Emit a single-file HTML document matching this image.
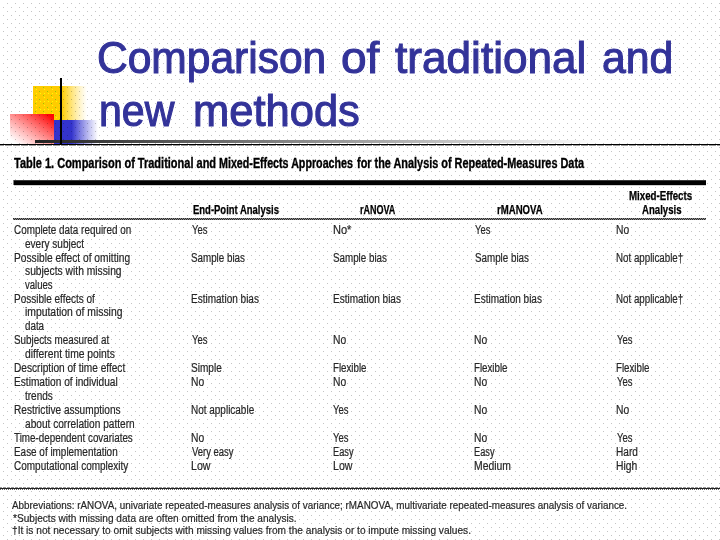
<!DOCTYPE html>
<html><head><meta charset="utf-8"><title>Comparison of traditional and new methods</title>
<style>
html,body{margin:0;padding:0;}
body{width:720px;height:540px;overflow:hidden;position:relative;background:#fff;font-family:"Liberation Sans",sans-serif;}
.t{position:absolute;white-space:nowrap;transform-origin:0 0;}
.abs{position:absolute;}
#txt{position:absolute;left:0;top:0;width:720px;height:540px;will-change:transform;}
</style></head><body>
<svg class="abs" style="left:0;top:0" width="720" height="540" viewBox="0 0 720 540" shape-rendering="crispEdges">
 <defs>
  <pattern id="dots" width="8" height="8" patternUnits="userSpaceOnUse">
   <rect x="7" y="3" width="1" height="1" fill="#c4c4c4"/>
   <rect x="3" y="7" width="1" height="1" fill="#c4c4c4"/>
  </pattern>
  <pattern id="ydots" width="8" height="8" patternUnits="userSpaceOnUse">
   <rect x="7" y="3" width="1" height="1" fill="#c8ff00"/>
   <rect x="3" y="7" width="1" height="1" fill="#c8ff00"/>
   <rect x="4" y="1" width="1" height="1" fill="#ffff00"/>
   <rect x="0" y="5" width="1" height="1" fill="#ffff00"/>
   <rect x="4" y="5" width="1" height="1" fill="#ffff00"/>
  </pattern>
  <pattern id="chk" width="2" height="2" patternUnits="userSpaceOnUse">
   <rect x="0" y="0" width="2" height="2" fill="#8a8a8a"/>
   <rect x="1" y="0" width="1" height="1" fill="#2a2a2a"/>
   <rect x="0" y="1" width="1" height="1" fill="#2a2a2a"/>
  </pattern>
  <pattern id="d8" width="8" height="1" patternUnits="userSpaceOnUse">
   <rect x="0" y="0" width="4" height="1" fill="#9a9a9a"/><rect x="5" y="0" width="3" height="1" fill="#9a9a9a"/>
  </pattern>
  <pattern id="d4" width="4" height="1" patternUnits="userSpaceOnUse">
   <rect x="0" y="0" width="2" height="1" fill="#999"/><rect x="3" y="0" width="1" height="1" fill="#999"/>
  </pattern>
  <pattern id="d2" width="2" height="1" patternUnits="userSpaceOnUse">
   <rect x="0" y="0" width="1" height="1" fill="#666"/>
  </pattern>
  <linearGradient id="gy" x1="0" x2="1" y1="0" y2="0">
   <stop offset="0" stop-color="#ffcc00"/><stop offset="0.53" stop-color="#ffcc00"/><stop offset="1" stop-color="#ffdd55" stop-opacity="0"/>
  </linearGradient>
  <linearGradient id="gb" x1="0" x2="1" y1="0" y2="0">
   <stop offset="0" stop-color="#3333cc"/><stop offset="0.40" stop-color="#3333cc"/><stop offset="1" stop-color="#5555dd" stop-opacity="0"/>
  </linearGradient>
  <linearGradient id="gr" x1="1" x2="0" y1="0" y2="1">
   <stop offset="0" stop-color="#ff0000"/><stop offset="0.08" stop-color="#ff0808"/><stop offset="0.5" stop-color="#ff2020" stop-opacity="0.5"/><stop offset="0.92" stop-color="#ff4040" stop-opacity="0"/>
  </linearGradient>
  <linearGradient id="gl" x1="0" x2="1" y1="0" y2="0">
   <stop offset="0" stop-color="#222"/><stop offset="1" stop-color="#ffffff"/>
  </linearGradient>
 </defs>
 <rect x="0" y="0" width="720" height="540" fill="#fff"/>
 <rect x="33" y="86" width="54" height="34" fill="url(#gy)"/>
 <rect x="33" y="86" width="29" height="34" fill="url(#ydots)"/>
 <rect x="54" y="120" width="44" height="24" fill="url(#gb)"/>
 <rect x="10" y="114" width="44" height="30" fill="#fff"/>
 <rect x="10" y="114" width="44" height="30" fill="url(#gr)"/>
 <rect x="0" y="0" width="720" height="540" fill="url(#dots)" style="mix-blend-mode:multiply"/>
 <rect x="35" y="140" width="565" height="3" fill="url(#gl)"/>
 <rect x="60" y="78" width="2" height="66" fill="#000"/>
 <rect x="0" y="144" width="720" height="1" fill="#000"/>
 <rect x="0" y="145" width="720" height="1" fill="url(#d8)"/>
 <rect x="13" y="180" width="1" height="5" fill="#808080"/>
 <rect x="14" y="180" width="692" height="1" fill="#3a3a3a"/>
 <rect x="14" y="181" width="692" height="4" fill="#000"/>
 <rect x="14" y="185" width="692" height="1" fill="#d0d0d0"/>
 <rect x="13" y="218" width="693" height="2" fill="url(#chk)"/>
 <rect x="0" y="487" width="720" height="1" fill="url(#d4)"/>
 <rect x="0" y="488" width="720" height="1" fill="#222"/>
 <rect x="0" y="489" width="720" height="1" fill="url(#d2)"/>
</svg>
<div id="txt">
<span class="t" style="left:97.33px;top:36.00px;font-size:44.5px;line-height:44.5px;color:#333399;-webkit-text-stroke:1.1px #333399;transform:scaleX(0.9557);">Comparison</span>
<span class="t" style="left:341.01px;top:36.00px;font-size:44.5px;line-height:44.5px;color:#333399;-webkit-text-stroke:1.1px #333399;transform:scaleX(1.0329);">of</span>
<span class="t" style="left:395.00px;top:36.00px;font-size:44.5px;line-height:44.5px;color:#333399;-webkit-text-stroke:1.1px #333399;transform:scaleX(0.9921);">traditional</span>
<span class="t" style="left:601.50px;top:36.00px;font-size:44.5px;line-height:44.5px;color:#333399;-webkit-text-stroke:1.1px #333399;transform:scaleX(0.9611);">and</span>
<span class="t" style="left:99.22px;top:89.00px;font-size:44.5px;line-height:44.5px;color:#333399;-webkit-text-stroke:1.1px #333399;transform:scaleX(0.9234);">new</span>
<span class="t" style="left:193.30px;top:89.00px;font-size:44.5px;line-height:44.5px;color:#333399;-webkit-text-stroke:1.1px #333399;transform:scaleX(0.9776);">methods</span>
<span class="t" style="left:14.00px;top:157.00px;font-size:13.8px;line-height:13.8px;color:#000;font-weight:bold;-webkit-text-stroke:0.35px #000;transform:scaleX(0.7972);">Table 1. Comparison of Traditional and</span>
<span class="t" style="left:218.92px;top:157.00px;font-size:13.8px;line-height:13.8px;color:#000;font-weight:bold;-webkit-text-stroke:0.35px #000;transform:scaleX(0.7755);">Mixed-Effects Approaches</span>
<span class="t" style="left:357.00px;top:157.00px;font-size:13.8px;line-height:13.8px;color:#000;font-weight:bold;-webkit-text-stroke:0.35px #000;transform:scaleX(0.7892);">for the Analysis of Repeated-Measures Data</span>
<span class="t" style="left:193.41px;top:204.00px;font-size:12px;line-height:12px;color:#000;font-weight:bold;-webkit-text-stroke:0.25px #000;transform:scaleX(0.7889);">End-Point Analysis</span>
<span class="t" style="left:360.44px;top:204.00px;font-size:12px;line-height:12px;color:#000;font-weight:bold;-webkit-text-stroke:0.25px #000;transform:scaleX(0.7503);">rANOVA</span>
<span class="t" style="left:496.70px;top:204.00px;font-size:12px;line-height:12px;color:#000;font-weight:bold;-webkit-text-stroke:0.25px #000;transform:scaleX(0.8000);">rMANOVA</span>
<span class="t" style="left:629.39px;top:190.00px;font-size:12px;line-height:12px;color:#000;font-weight:bold;-webkit-text-stroke:0.25px #000;transform:scaleX(0.8091);">Mixed-Effects</span>
<span class="t" style="left:641.50px;top:204.00px;font-size:12px;line-height:12px;color:#000;font-weight:bold;-webkit-text-stroke:0.25px #000;transform:scaleX(0.8000);">Analysis</span>
<span class="t" style="left:13.84px;top:224.00px;font-size:12px;line-height:12px;color:#262626;-webkit-text-stroke:0.2px #262626;transform:scaleX(0.8245);">Complete data required on</span>
<span class="t" style="left:191.60px;top:224.00px;font-size:12px;line-height:12px;color:#262626;-webkit-text-stroke:0.2px #262626;transform:scaleX(0.7895);">Yes</span>
<span class="t" style="left:332.71px;top:224.00px;font-size:12px;line-height:12px;color:#262626;-webkit-text-stroke:0.2px #262626;transform:scaleX(0.9195);">No*</span>
<span class="t" style="left:474.80px;top:224.00px;font-size:12px;line-height:12px;color:#262626;-webkit-text-stroke:0.2px #262626;transform:scaleX(0.7895);">Yes</span>
<span class="t" style="left:616.06px;top:224.00px;font-size:12px;line-height:12px;color:#262626;-webkit-text-stroke:0.2px #262626;transform:scaleX(0.8561);">No</span>
<span class="t" style="left:24.78px;top:238.00px;font-size:12px;line-height:12px;color:#262626;-webkit-text-stroke:0.2px #262626;transform:scaleX(0.8363);">every subject</span>
<span class="t" style="left:13.61px;top:252.00px;font-size:12px;line-height:12px;color:#262626;-webkit-text-stroke:0.2px #262626;transform:scaleX(0.8503);">Possible effect of omitting</span>
<span class="t" style="left:191.39px;top:252.00px;font-size:12px;line-height:12px;color:#262626;-webkit-text-stroke:0.2px #262626;transform:scaleX(0.8169);">Sample bias</span>
<span class="t" style="left:332.99px;top:252.00px;font-size:12px;line-height:12px;color:#262626;-webkit-text-stroke:0.2px #262626;transform:scaleX(0.8169);">Sample bias</span>
<span class="t" style="left:474.59px;top:252.00px;font-size:12px;line-height:12px;color:#262626;-webkit-text-stroke:0.2px #262626;transform:scaleX(0.8169);">Sample bias</span>
<span class="t" style="left:616.09px;top:252.00px;font-size:12px;line-height:12px;color:#262626;-webkit-text-stroke:0.2px #262626;transform:scaleX(0.8123);">Not applicable†</span>
<span class="t" style="left:24.99px;top:265.00px;font-size:12px;line-height:12px;color:#262626;-webkit-text-stroke:0.2px #262626;transform:scaleX(0.8568);">subjects with missing</span>
<span class="t" style="left:25.20px;top:279.00px;font-size:12px;line-height:12px;color:#262626;-webkit-text-stroke:0.2px #262626;transform:scaleX(0.7971);">values</span>
<span class="t" style="left:13.63px;top:293.00px;font-size:12px;line-height:12px;color:#262626;-webkit-text-stroke:0.2px #262626;transform:scaleX(0.8316);">Possible effects of</span>
<span class="t" style="left:191.17px;top:293.00px;font-size:12px;line-height:12px;color:#262626;-webkit-text-stroke:0.2px #262626;transform:scaleX(0.8349);">Estimation bias</span>
<span class="t" style="left:332.77px;top:293.00px;font-size:12px;line-height:12px;color:#262626;-webkit-text-stroke:0.2px #262626;transform:scaleX(0.8349);">Estimation bias</span>
<span class="t" style="left:474.37px;top:293.00px;font-size:12px;line-height:12px;color:#262626;-webkit-text-stroke:0.2px #262626;transform:scaleX(0.8349);">Estimation bias</span>
<span class="t" style="left:616.09px;top:293.00px;font-size:12px;line-height:12px;color:#262626;-webkit-text-stroke:0.2px #262626;transform:scaleX(0.8123);">Not applicable†</span>
<span class="t" style="left:24.55px;top:306.00px;font-size:12px;line-height:12px;color:#262626;-webkit-text-stroke:0.2px #262626;transform:scaleX(0.8647);">imputation of missing</span>
<span class="t" style="left:24.79px;top:320.00px;font-size:12px;line-height:12px;color:#262626;-webkit-text-stroke:0.2px #262626;transform:scaleX(0.8152);">data</span>
<span class="t" style="left:13.84px;top:334.00px;font-size:12px;line-height:12px;color:#262626;-webkit-text-stroke:0.2px #262626;transform:scaleX(0.8207);">Subjects measured at</span>
<span class="t" style="left:191.60px;top:334.00px;font-size:12px;line-height:12px;color:#262626;-webkit-text-stroke:0.2px #262626;transform:scaleX(0.7895);">Yes</span>
<span class="t" style="left:332.76px;top:334.00px;font-size:12px;line-height:12px;color:#262626;-webkit-text-stroke:0.2px #262626;transform:scaleX(0.8561);">No</span>
<span class="t" style="left:474.36px;top:334.00px;font-size:12px;line-height:12px;color:#262626;-webkit-text-stroke:0.2px #262626;transform:scaleX(0.8561);">No</span>
<span class="t" style="left:616.50px;top:334.00px;font-size:12px;line-height:12px;color:#262626;-webkit-text-stroke:0.2px #262626;transform:scaleX(0.7895);">Yes</span>
<span class="t" style="left:24.77px;top:348.00px;font-size:12px;line-height:12px;color:#262626;-webkit-text-stroke:0.2px #262626;transform:scaleX(0.8602);">different time points</span>
<span class="t" style="left:13.62px;top:362.00px;font-size:12px;line-height:12px;color:#262626;-webkit-text-stroke:0.2px #262626;transform:scaleX(0.8438);">Description of time effect</span>
<span class="t" style="left:191.38px;top:362.00px;font-size:12px;line-height:12px;color:#262626;-webkit-text-stroke:0.2px #262626;transform:scaleX(0.8392);">Simple</span>
<span class="t" style="left:332.79px;top:362.00px;font-size:12px;line-height:12px;color:#262626;-webkit-text-stroke:0.2px #262626;transform:scaleX(0.8099);">Flexible</span>
<span class="t" style="left:474.39px;top:362.00px;font-size:12px;line-height:12px;color:#262626;-webkit-text-stroke:0.2px #262626;transform:scaleX(0.8099);">Flexible</span>
<span class="t" style="left:616.09px;top:362.00px;font-size:12px;line-height:12px;color:#262626;-webkit-text-stroke:0.2px #262626;transform:scaleX(0.8099);">Flexible</span>
<span class="t" style="left:13.62px;top:376.00px;font-size:12px;line-height:12px;color:#262626;-webkit-text-stroke:0.2px #262626;transform:scaleX(0.8454);">Estimation of individual</span>
<span class="t" style="left:191.16px;top:376.00px;font-size:12px;line-height:12px;color:#262626;-webkit-text-stroke:0.2px #262626;transform:scaleX(0.8561);">No</span>
<span class="t" style="left:332.76px;top:376.00px;font-size:12px;line-height:12px;color:#262626;-webkit-text-stroke:0.2px #262626;transform:scaleX(0.8561);">No</span>
<span class="t" style="left:474.36px;top:376.00px;font-size:12px;line-height:12px;color:#262626;-webkit-text-stroke:0.2px #262626;transform:scaleX(0.8561);">No</span>
<span class="t" style="left:616.50px;top:376.00px;font-size:12px;line-height:12px;color:#262626;-webkit-text-stroke:0.2px #262626;transform:scaleX(0.7895);">Yes</span>
<span class="t" style="left:25.20px;top:390.00px;font-size:12px;line-height:12px;color:#262626;-webkit-text-stroke:0.2px #262626;transform:scaleX(0.8333);">trends</span>
<span class="t" style="left:13.62px;top:404.00px;font-size:12px;line-height:12px;color:#262626;-webkit-text-stroke:0.2px #262626;transform:scaleX(0.8410);">Restrictive assumptions</span>
<span class="t" style="left:191.18px;top:404.00px;font-size:12px;line-height:12px;color:#262626;-webkit-text-stroke:0.2px #262626;transform:scaleX(0.8307);">Not applicable</span>
<span class="t" style="left:333.20px;top:404.00px;font-size:12px;line-height:12px;color:#262626;-webkit-text-stroke:0.2px #262626;transform:scaleX(0.7895);">Yes</span>
<span class="t" style="left:474.36px;top:404.00px;font-size:12px;line-height:12px;color:#262626;-webkit-text-stroke:0.2px #262626;transform:scaleX(0.8561);">No</span>
<span class="t" style="left:616.06px;top:404.00px;font-size:12px;line-height:12px;color:#262626;-webkit-text-stroke:0.2px #262626;transform:scaleX(0.8561);">No</span>
<span class="t" style="left:24.78px;top:418.00px;font-size:12px;line-height:12px;color:#262626;-webkit-text-stroke:0.2px #262626;transform:scaleX(0.8430);">about correlation pattern</span>
<span class="t" style="left:14.05px;top:432.00px;font-size:12px;line-height:12px;color:#262626;-webkit-text-stroke:0.2px #262626;transform:scaleX(0.8194);">Time-dependent covariates</span>
<span class="t" style="left:191.16px;top:432.00px;font-size:12px;line-height:12px;color:#262626;-webkit-text-stroke:0.2px #262626;transform:scaleX(0.8561);">No</span>
<span class="t" style="left:333.20px;top:432.00px;font-size:12px;line-height:12px;color:#262626;-webkit-text-stroke:0.2px #262626;transform:scaleX(0.7895);">Yes</span>
<span class="t" style="left:474.36px;top:432.00px;font-size:12px;line-height:12px;color:#262626;-webkit-text-stroke:0.2px #262626;transform:scaleX(0.8561);">No</span>
<span class="t" style="left:616.50px;top:432.00px;font-size:12px;line-height:12px;color:#262626;-webkit-text-stroke:0.2px #262626;transform:scaleX(0.7895);">Yes</span>
<span class="t" style="left:13.63px;top:446.00px;font-size:12px;line-height:12px;color:#262626;-webkit-text-stroke:0.2px #262626;transform:scaleX(0.8266);">Ease of implementation</span>
<span class="t" style="left:191.80px;top:446.00px;font-size:12px;line-height:12px;color:#262626;-webkit-text-stroke:0.2px #262626;transform:scaleX(0.7886);">Very easy</span>
<span class="t" style="left:332.82px;top:446.00px;font-size:12px;line-height:12px;color:#262626;-webkit-text-stroke:0.2px #262626;transform:scaleX(0.7692);">Easy</span>
<span class="t" style="left:474.42px;top:446.00px;font-size:12px;line-height:12px;color:#262626;-webkit-text-stroke:0.2px #262626;transform:scaleX(0.7692);">Easy</span>
<span class="t" style="left:616.07px;top:446.00px;font-size:12px;line-height:12px;color:#262626;-webkit-text-stroke:0.2px #262626;transform:scaleX(0.8408);">Hard</span>
<span class="t" style="left:13.83px;top:460.00px;font-size:12px;line-height:12px;color:#262626;-webkit-text-stroke:0.2px #262626;transform:scaleX(0.8321);">Computational complexity</span>
<span class="t" style="left:191.14px;top:460.00px;font-size:12px;line-height:12px;color:#262626;-webkit-text-stroke:0.2px #262626;transform:scaleX(0.8837);">Low</span>
<span class="t" style="left:332.74px;top:460.00px;font-size:12px;line-height:12px;color:#262626;-webkit-text-stroke:0.2px #262626;transform:scaleX(0.8837);">Low</span>
<span class="t" style="left:474.35px;top:460.00px;font-size:12px;line-height:12px;color:#262626;-webkit-text-stroke:0.2px #262626;transform:scaleX(0.8655);">Medium</span>
<span class="t" style="left:616.05px;top:460.00px;font-size:12px;line-height:12px;color:#262626;-webkit-text-stroke:0.2px #262626;transform:scaleX(0.8602);">High</span>
<span class="t" style="left:11.70px;top:500.00px;font-size:11.8px;line-height:11.8px;color:#262626;-webkit-text-stroke:0.2px #262626;transform:scaleX(0.8358);">Abbreviations: rANOVA, univariate repeated-measures analysis of variance; rMANOVA, multivariate repeated-measures analysis of variance.</span>
<span class="t" style="left:12.80px;top:513.00px;font-size:11.8px;line-height:11.8px;color:#262626;-webkit-text-stroke:0.2px #262626;transform:scaleX(0.8566);">*Subjects with missing data are often omitted from the analysis.</span>
<span class="t" style="left:11.86px;top:525.00px;font-size:11.8px;line-height:11.8px;color:#262626;-webkit-text-stroke:0.2px #262626;transform:scaleX(0.8600);">†It is not necessary to omit subjects with missing values from the analysis or to impute missing values.</span>
</div>
</body></html>
